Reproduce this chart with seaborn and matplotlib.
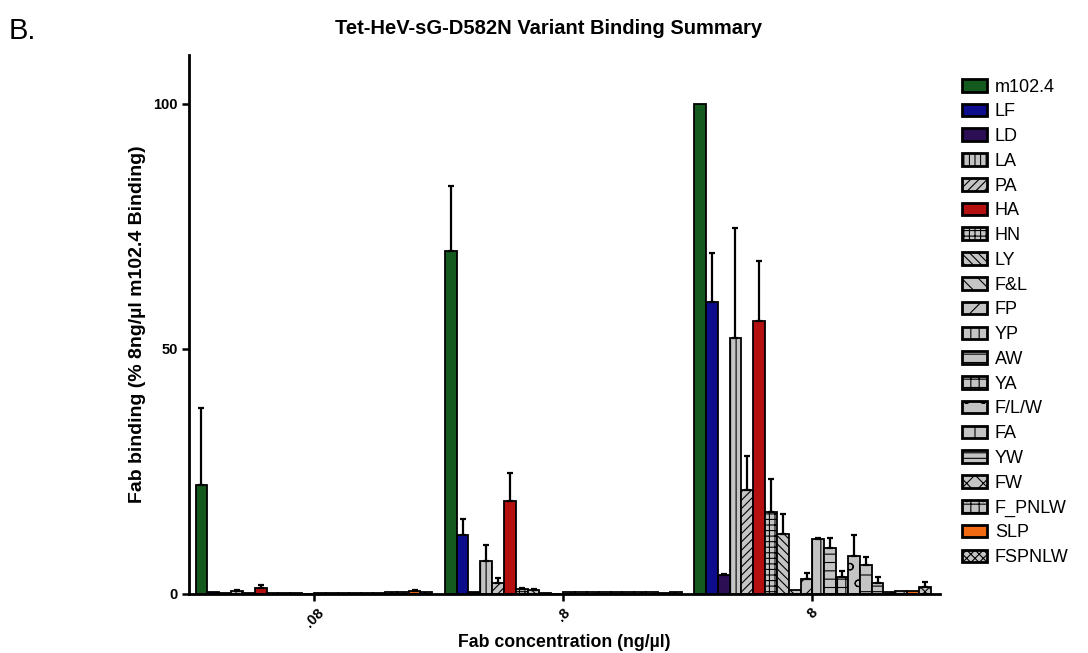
import numpy as np
import pandas as pd
import matplotlib
matplotlib.use("Agg")
import matplotlib.pyplot as plt
import seaborn as sns
from matplotlib.patches import Patch

# ---------------- data ----------------
variants = ["m102.4", "LF", "LD", "LA", "PA", "HA", "HN", "LY", "F&L", "FP",
            "YP", "AW", "YA", "F/L/W", "FA", "YW", "FW", "F_PNLW", "SLP", "FSPNLW"]
concentrations = [".08", ".8", "8"]

values_008 = [22.3, 0.4, 0.1, 0.6, 0.2, 1.2, 0.2, 0.1, 0.2, 0.0,
              0.2, 0.2, 0.2, 0.2, 0.2, 0.2, 0.3, 0.3, 0.6, 0.3]
errors_008 = [15.6, 0.0, 0.0, 0.2, 0.0, 0.6, 0.0, 0.0, 0.0, 0.0,
              0.0, 0.0, 0.0, 0.0, 0.0, 0.0, 0.0, 0.0, 0.2, 0.0]

values_08 = [69.9, 12.1, 0.3, 6.8, 2.3, 18.9, 1.0, 0.8, 0.1, 0.0,
             0.4, 0.5, 0.5, 0.5, 0.5, 0.5, 0.5, 0.4, 0.2, 0.3]
errors_08 = [13.3, 3.1, 0.0, 3.2, 1.0, 5.7, 0.2, 0.2, 0.0, 0.0,
             0.0, 0.0, 0.0, 0.0, 0.0, 0.0, 0.0, 0.0, 0.0, 0.0]

values_8 = [100.0, 59.6, 3.8, 52.2, 21.3, 55.7, 16.8, 12.3, 0.8, 3.1,
            11.2, 9.4, 3.5, 7.8, 5.9, 2.3, 0.5, 0.7, 0.7, 1.4]
errors_8 = [0.0, 9.9, 0.3, 22.4, 6.8, 12.3, 6.6, 4.1, 0.0, 1.2,
            0.2, 2.1, 1.2, 4.3, 1.7, 1.2, 0.0, 0.0, 0.0, 1.0]

colors = ["#145a1e", "#0c0c8c", "#2c0e55", "#c4c4c4", "#c4c4c4", "#b3100f",
          "#c4c4c4", "#c4c4c4", "#c4c4c4", "#c4c4c4", "#c4c4c4", "#c4c4c4",
          "#c4c4c4", "#c4c4c4", "#c4c4c4", "#c4c4c4", "#c4c4c4", "#c4c4c4",
          "#f26a12", "#c4c4c4"]
hatches = ["", "", "", "|||", "////", "", "+++", "\\\\\\\\", "\\\\", "//",
           "||", "--", "++", "o", "+", "---", "xx", "++.", "", "xxxx"]

all_values = [values_008, values_08, values_8]
all_errors = [errors_008, errors_08, errors_8]

df = pd.DataFrame({
    "conc": np.repeat(concentrations, len(variants)),
    "variant": variants * len(concentrations),
    "value": np.concatenate(all_values),
})

# ---------------- style ----------------
sns.set_theme(style="ticks")
plt.rcParams["font.family"] = ["Liberation Sans", "DejaVu Sans"]
plt.rcParams["hatch.linewidth"] = 0.8
plt.rcParams["hatch.color"] = "black"
for key in ["text.color", "axes.labelcolor", "xtick.color", "ytick.color",
            "axes.edgecolor"]:
    plt.rcParams[key] = "black"

fig = plt.figure(figsize=(10.88, 6.53), dpi=100)
ax = fig.add_axes([0.174, 0.0904, 0.690, 0.826])

sns.barplot(data=df, x="conc", y="value", hue="variant",
            order=concentrations, hue_order=variants,
            palette=dict(zip(variants, colors)), width=0.95, saturation=1,
            edgecolor="black", linewidth=1.3, errorbar=None, legend=False,
            ax=ax)

for k, (container, hatch) in enumerate(zip(ax.containers, hatches)):
    for j, bar in enumerate(container):
        bar.set_hatch(hatch)
        bar.set_edgecolor("black")
        e = all_errors[j][k]
        if e > 0:
            x = bar.get_x() + bar.get_width() / 2
            h = bar.get_height()
            ax.errorbar(x, h, yerr=[[0], [e]], color="black", lw=1.6,
                        capsize=2.5, capthick=1.6, zorder=1)

ax.set_xlim(-0.5, 2.512)
ax.set_ylim(0, 110)
ax.set_yticks([0, 50, 100])
ax.set_yticklabels(["0", "50", "100"], fontsize=10.5, fontweight="bold")
ax.set_xticks([0, 1, 2])
ax.set_xticklabels(concentrations, rotation=45, fontsize=10.5,
                   fontweight="bold", ha="center")
ax.tick_params(axis="both", length=5, width=1.8, color="black")
for s in ["top", "right"]:
    ax.spines[s].set_visible(False)
for s in ["left", "bottom"]:
    ax.spines[s].set_linewidth(2)
    ax.spines[s].set_color("black")

ax.set_xlabel("Fab concentration (ng/µl)", fontsize=12.8, fontweight="bold",
              labelpad=3)
ax.set_ylabel("Fab binding (% 8ng/µl m102.4 Binding)", fontsize=14,
              fontweight="bold", labelpad=5)

handles = [Patch(facecolor=c, edgecolor="black", hatch=h, linewidth=2)
           for c, h in zip(colors, hatches)]
ax.legend(handles, variants, loc="upper left", bbox_to_anchor=(1.020, 0.969),
          frameon=False, fontsize=13, handlelength=1.35, handleheight=0.7,
          labelspacing=0.43, handletextpad=0.45, borderaxespad=0)

fig.text(0.504, 0.957, "Tet-HeV-sG-D582N Variant Binding Summary",
         ha="center", va="center", fontsize=14.5, fontweight="bold")
fig.text(0.008, 0.953, "B.", ha="left", va="center", fontsize=21)

fig.savefig("out.png", dpi=100)
